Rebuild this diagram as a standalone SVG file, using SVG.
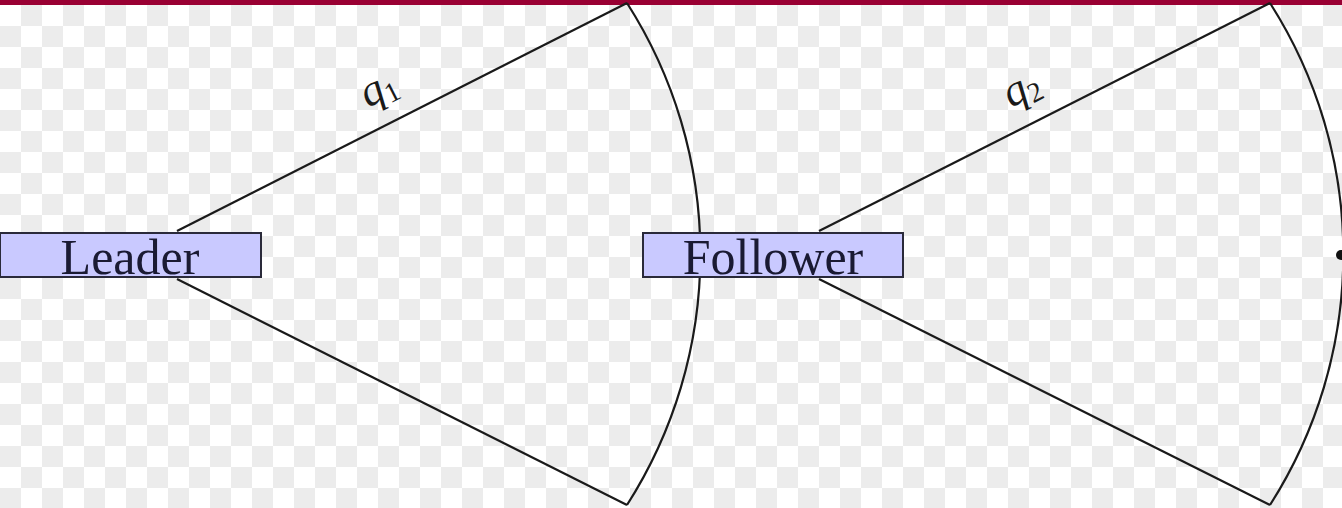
<svg xmlns="http://www.w3.org/2000/svg" width="1342" height="508" viewBox="0 0 1342 508">
  <defs>
    <pattern id="checker" x="0" y="5" width="42" height="42" patternUnits="userSpaceOnUse">
      <rect x="0" y="0" width="42" height="42" fill="#ffffff"/>
      <rect x="21" y="0" width="21" height="21" fill="#ececec"/>
      <rect x="0" y="21" width="21" height="21" fill="#ececec"/>
    </pattern>
    <style>
      .edge { fill: none; stroke: #1a1a1a; stroke-width: 2.2; }
      .box { fill: #c9c9ff; stroke: #2a2a3a; stroke-width: 2; }
      .lbl { font-family: "Liberation Serif", "DejaVu Serif", serif; font-size: 50px; fill: #1a1a33; text-anchor: middle; }
      .q { font-family: "Liberation Serif", "DejaVu Serif", serif; font-size: 44px; font-style: italic; fill: #1a1a1a; }
      .sub { font-size: 28px; font-style: normal; }
    </style>
  </defs>
  <rect x="0" y="0" width="1342" height="508" fill="url(#checker)"/>
  <rect x="0" y="0" width="1342" height="5" fill="#990033"/>

  <g id="connectors">
    <line class="edge" x1="177" y1="231" x2="627" y2="3"/>
    <line class="edge" x1="177" y1="279" x2="627" y2="505"/>
    <path class="edge" d="M627,3 A466,466 0 0 1 627,505"/>
    <line class="edge" x1="819" y1="231" x2="1270" y2="3"/>
    <line class="edge" x1="819" y1="279" x2="1270" y2="505"/>
    <path class="edge" d="M1270,3 A466,466 0 0 1 1270,505"/>
    <text class="q" transform="translate(368,108) rotate(-26.9)">q<tspan class="sub" dy="6">1</tspan></text>
    <text class="q" transform="translate(1011,108) rotate(-26.9)">q<tspan class="sub" dy="6">2</tspan></text>
  </g>

  <g id="leader">
    <rect class="box" x="0" y="233" width="261" height="44"/>
    <text class="lbl" x="130" y="274">Leader</text>
  </g>

  <g id="follower">
    <rect class="box" x="643" y="233" width="260" height="44"/>
    <text class="lbl" x="773" y="274">Follower</text>
  </g>

  <g id="end-node">
    <circle cx="1341" cy="255" r="5" fill="#111111"/>
  </g>
</svg>
